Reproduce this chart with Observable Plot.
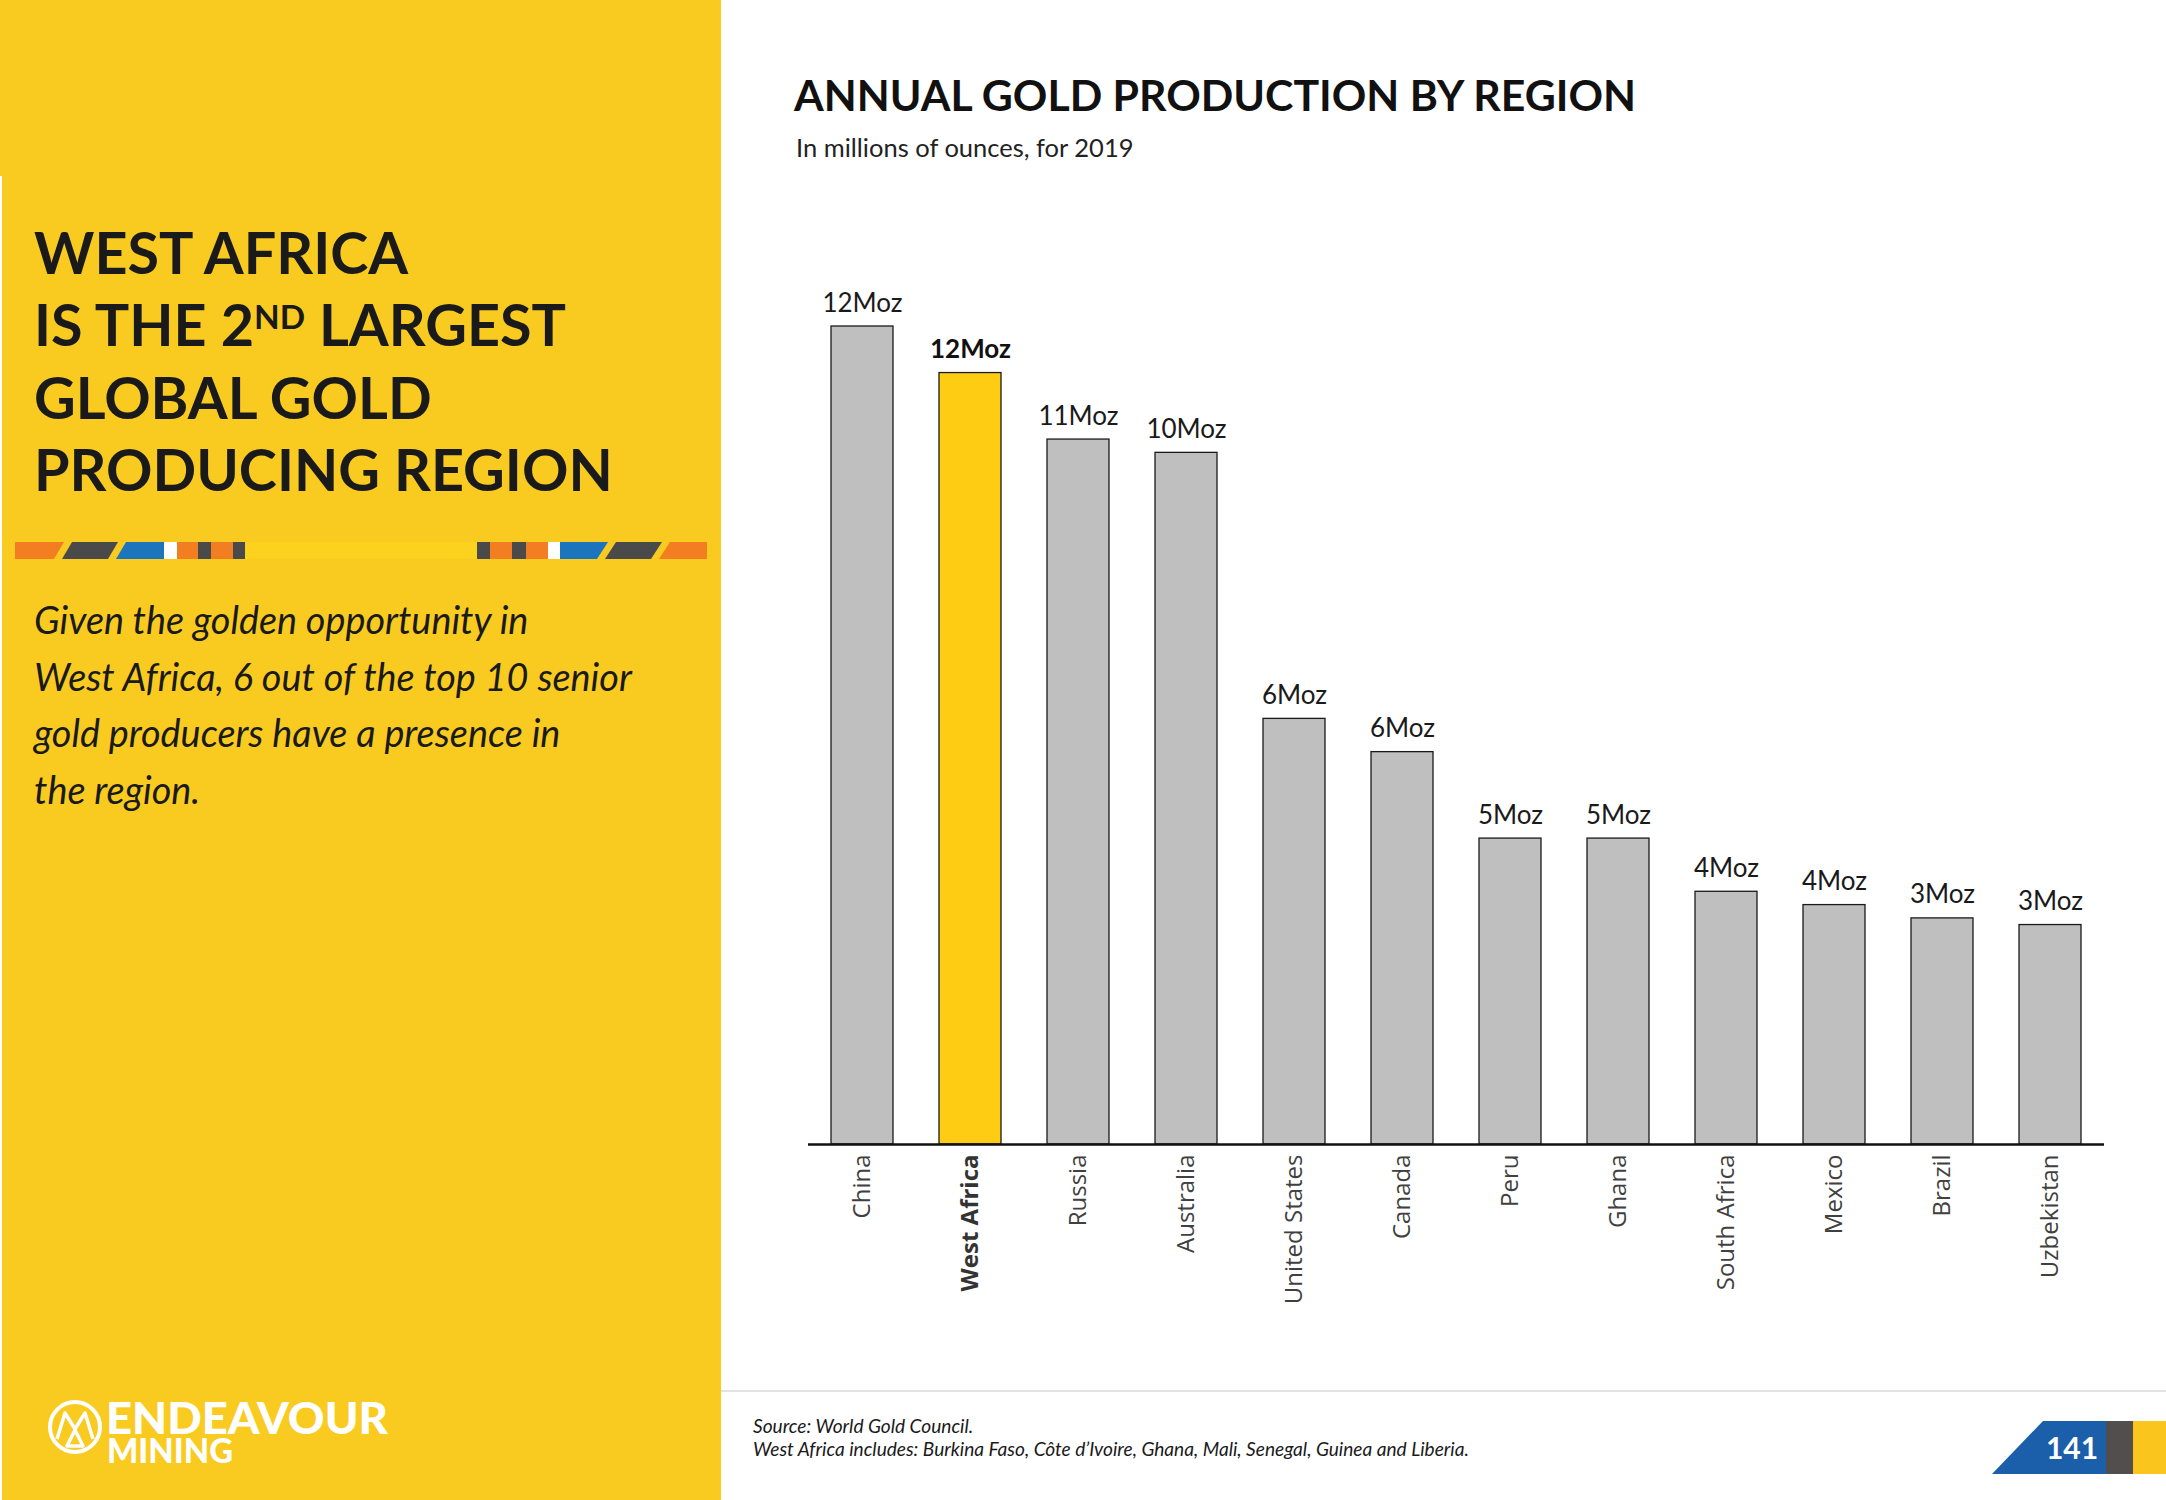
<!DOCTYPE html>
<html><head><meta charset="utf-8">
<script src="https://cdn.jsdelivr.net/npm/d3@7"></script>
<script src="https://cdn.jsdelivr.net/npm/@observablehq/plot@0.6"></script>
<style>
body{margin:0;background:#fff;}
#page{position:relative;width:2166px;height:1500px;overflow:hidden;background:#fff;font-family:Lato, sans-serif;}
#panel{position:absolute;left:0;top:0;width:721px;height:1500px;background:#F9CB20;}
#notch{position:absolute;left:0;top:176px;width:2px;height:1324px;background:#fff;}
#headline{position:absolute;left:34px;top:216px;font-family:Lato;font-weight:700;font-size:57.5px;line-height:72.3px;color:#1a1a1a;white-space:nowrap;}
#headline .sup{font-size:0.58em;position:relative;top:-17px;line-height:0;}
#stripe{position:absolute;left:0;top:542px;}
#body{position:absolute;left:34px;top:592px;font-family:Lato;font-style:italic;font-size:37.8px;line-height:56.7px;color:#1a1a1a;white-space:nowrap;}
#logo{position:absolute;left:40px;top:1388px;}
#title{position:absolute;left:794px;top:74px;font-family:Lato;font-weight:700;font-size:42.8px;line-height:1;color:#111;white-space:nowrap;}
#subtitle{position:absolute;left:796px;top:135px;font-family:Lato;font-size:25.5px;line-height:1;color:#222;white-space:nowrap;}
#chart{position:absolute;left:760px;top:260px;}
#footline{position:absolute;left:721px;top:1390px;width:1445px;height:2px;background:#e3e3e3;}
#source{position:absolute;left:753px;top:1414px;font-family:Lato;font-style:italic;font-size:19.1px;line-height:23px;color:#1a1a1a;white-space:nowrap;}
#tag{position:absolute;left:1960px;top:1400px;}
</style></head><body>
<div id="page">
  <div id="panel"></div>
  <div id="notch"></div>
  <div id="headline">WEST AFRICA<br>IS THE 2<span class="sup">ND</span> LARGEST<br>GLOBAL GOLD<br>PRODUCING REGION</div>
  <svg id="stripe" width="721" height="17" viewBox="0 0 721 17">
    <polygon points="15,0 64,0 54,17 15,17" fill="#F37E22"/>
    <polygon points="72,0 118,0 108,17 62,17" fill="#4A4A4A"/>
    <polygon points="126,0 164,0 164,17 116,17" fill="#1C75BC"/>
    <rect x="164" y="0" width="13" height="17" fill="#fff"/>
    <rect x="177" y="0" width="21" height="17" fill="#F37E22"/>
    <rect x="198" y="0" width="13" height="17" fill="#4A4A4A"/>
    <rect x="211" y="0" width="22" height="17" fill="#F37E22"/>
    <rect x="233" y="0" width="12" height="17" fill="#4A4A4A"/>
    <rect x="245" y="0" width="232" height="17" fill="#FDD21E"/>
    <rect x="477" y="0" width="13" height="17" fill="#4A4A4A"/>
    <rect x="490" y="0" width="22" height="17" fill="#F37E22"/>
    <rect x="512" y="0" width="14" height="17" fill="#4A4A4A"/>
    <rect x="526" y="0" width="22" height="17" fill="#F37E22"/>
    <rect x="548" y="0" width="12" height="17" fill="#fff"/>
    <polygon points="560,0 608,0 597,17 560,17" fill="#1C75BC"/>
    <polygon points="616,0 662,0 651,17 605,17" fill="#4A4A4A"/>
    <polygon points="670,0 707,0 707,17 659,17" fill="#F37E22"/>
  </svg>
  <div id="body">Given the golden opportunity in<br>West Africa, 6 out of the top 10 senior<br>gold producers have a presence in<br>the region.</div>
  <svg id="logo" width="360" height="96" viewBox="0 0 360 96">
    <circle cx="35" cy="39" r="25" fill="none" stroke="#fff" stroke-width="4"/>
    <polyline points="17,51 25,25 35,41 45,25 53,51" fill="none" stroke="#fff" stroke-width="3.5" stroke-linejoin="round"/>
    <polygon points="35,42 27,58 43,58" fill="none" stroke="#fff" stroke-width="3.5" stroke-linejoin="round"/>
    <text font-family="Lato" font-weight="900" fill="#fff"><tspan x="66" y="46" font-size="44" textLength="282" lengthAdjust="spacingAndGlyphs">ENDEAVOUR</tspan><tspan x="67" y="75" font-size="34" textLength="126" lengthAdjust="spacingAndGlyphs">MINING</tspan></text>
  </svg>
  <div id="title">ANNUAL GOLD PRODUCTION BY REGION</div>
  <div id="subtitle">In millions of ounces, for 2019</div>
  <div id="chart"></div>
  <div id="footline"></div>
  <div id="source">Source: World Gold Council.<br>West Africa includes: Burkina Faso, Côte d’Ivoire, Ghana, Mali, Senegal, Guinea and Liberia.</div>
  <svg id="tag" width="206" height="100" viewBox="0 0 206 100">
    <polygon points="32,74 83,21 146,21 146,74" fill="#1B5FAA"/>
    <rect x="146" y="21" width="27" height="53" fill="#524E4E"/>
    <rect x="173" y="21" width="33" height="53" fill="#FAC51C"/>
    <text x="112" y="59" text-anchor="middle" font-family="Lato" font-weight="700" font-size="30" fill="#fff">141</text>
  </svg>
</div>
<script>
const regions = ["China", "West Africa", "Russia", "Australia", "United States", "Canada", "Peru", "Ghana", "South Africa", "Mexico", "Brazil", "Uzbekistan"];
const values = [12.3, 11.6, 10.6, 10.4, 6.4, 5.9, 4.6, 4.6, 3.8, 3.6, 3.4, 3.3];
const valueLabels = ["12Moz", "12Moz", "11Moz", "10Moz", "6Moz", "6Moz", "5Moz", "5Moz", "4Moz", "4Moz", "3Moz", "3Moz"];
const highlight = "West Africa";
const barGray = "#BFBFBF";
const barGold = "#FFCC14";

const data = regions.map((r, i) => ({region: r, value: values[i], label: valueLabels[i]}));
const others = data.filter(d => d.region !== highlight);
const hi = data.filter(d => d.region === highlight);

const chart = Plot.plot({
  width: 1380, height: 1080,
  marginTop: 66, marginBottom: 196, marginLeft: 48, marginRight: 36,
  x: {domain: regions, paddingInner: 0.43, paddingOuter: 0.215, label: null},
  y: {domain: [0, d3.max(values)], axis: null},
  color: {type: "identity"},
  style: {background: "transparent", overflow: "visible"},
  marks: [
    Plot.barY(data, {x: "region", y: "value", fill: d => d.region === highlight ? barGold : barGray, stroke: "#1a1a1a", strokeWidth: 1.3}),
    Plot.ruleY([0], {stroke: "#111", strokeWidth: 2.5}),
    Plot.text(others, {x: "region", y: "value", text: "label", lineAnchor: "bottom", dy: -15, fontSize: 26, fontFamily: "Lato", fill: "#1a1a1a"}),
    Plot.text(hi, {x: "region", y: "value", text: "label", lineAnchor: "bottom", dy: -15, fontSize: 26, fontFamily: "Lato", fontWeight: "bold", fill: "#111"}),
    Plot.axisX(regions.filter(r => r !== highlight), {tickRotate: -90, tickSize: 0, tickPadding: 10, fontSize: 24, fontFamily: "Open Sans", color: "#404040", label: null}),
    Plot.axisX([highlight], {tickRotate: -90, tickSize: 0, tickPadding: 10, fontSize: 24, fontFamily: "Open Sans", fontWeight: "bold", color: "#333", label: null})
  ]
});
document.getElementById("chart").appendChild(chart);
</script>
</body></html>
